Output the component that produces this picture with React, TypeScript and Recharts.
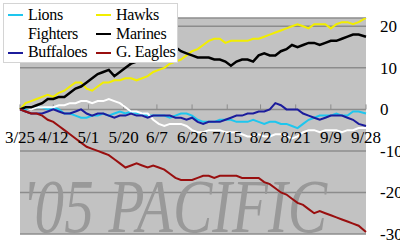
import { LineChart, Line, XAxis, YAxis, CartesianGrid, Legend, ReferenceLine, Customized } from 'recharts';

// days since 3/25, sampled every 3 days
const days = [
  0, 3, 6, 9, 12, 15, 18, 21, 24, 27, 30, 33, 36, 39, 42, 45, 48, 51, 54, 57, 60,
  63, 66, 69, 72, 75, 78, 81, 84, 87, 90, 93, 96, 99, 102, 105, 108, 111, 114, 117, 120,
  123, 126, 129, 132, 135, 138, 141, 144, 147, 150, 153, 156, 159, 162, 165, 168, 171, 174, 177, 180,
  183, 187,
];

const tickDays = [0, 18, 37, 56, 74, 93, 112, 130, 149, 168, 187];
const tickLabels = ['3/25', '4/12', '5/1', '5/20', '6/7', '6/26', '7/15', '8/2', '8/21', '9/9', '9/28'];
const yTicks = [-30, -20, -10, 0, 10, 20];

// games above .500
const lions = [
  0, 0, 0.5, 0.5, 0.5, 0, 0.5, 0, -1, -1, -1.5, -2, -2, -1.5, -1.5, -1, -1.5, -1, -0.5, -1, -0.5,
  -1, -1, -1.5, -1.5, -1.5, -1.5, -2, -1.5, -1, -1, -1.5, -2.5, -3, -3, -3, -2.5, -2.5, -2.5, -3, -3,
  -3, -2.5, -3, -3.5, -3, -3, -3.5, -3.5, -4, -4.5, -3.5, -2.5, -2, -1.5, -1.5, -1.5, -1, -1.5, -1.5, -0.5,
  -0.5, -1,
];
const hawks = [
  0, 1.5, 2, 2.5, 3, 3.5, 3, 4, 4.5, 5.5, 6.5, 6.5, 5, 4.5, 5.5, 6.5, 6.5, 7, 7, 7.5, 7.5,
  7, 7.5, 8, 9, 9.5, 10, 11, 11.5, 12, 13, 14, 14.5, 15.5, 16.5, 17, 17, 16, 16.5, 16.5, 16.5,
  16.5, 17, 17, 17.5, 18, 18.5, 19, 19.5, 20, 20.5, 20, 19.5, 20.5, 20.5, 20.5, 19.5, 20.5, 21, 21, 20.5,
  21, 22,
];
const fighters = [
  0, 0.5, 0, 0.5, 0.5, 0.5, 0.5, 1, 1, 1.5, 1.5, 2, 2, 1.5, 2, 2, 2.5, 2, 1.5, 0.5, -0.5,
  -0.5, -1, -1, -2.5, -3.5, -4, -3.5, -3.5, -3.5, -4, -5, -5.5, -5.5, -5, -5, -5, -5.5, -5.5, -5.5, -6,
  -6.5, -6.5, -6, -6.5, -6.5, -6, -6, -6.5, -7, -6.5, -5.5, -5, -5, -5.5, -5, -5, -5, -5.5, -5, -5,
  -4.5, -4.5,
];
const marines = [
  0, 0.5, 0.5, 1, 1.5, 2.5, 2.5, 3, 3, 4, 5, 5.5, 6.5, 7.5, 8.5, 9, 9.5, 8, 9, 10, 11,
  11.5, 12, 12.5, 13.5, 14.5, 15, 15.5, 15, 14, 13.5, 13, 12.5, 12.5, 12.5, 12, 12, 11.5, 10.5, 11.5, 12,
  12, 11.5, 13, 13.5, 13, 13, 14, 14.5, 15.5, 15, 15.5, 16, 16, 15.5, 16, 16.5, 16.5, 17, 17.5, 18,
  18, 17.5,
];
const buffaloes = [
  0, -0.5, -1, -1, -1, -0.5, 0, -0.5, -1, -1, -0.5, 0, -1, -1.5, -1, -1, -1.5, -2, -1.5, -1.5, -1,
  -1.5, -1.5, -2, -1.5, -1.5, -1.5, -1.5, -2, -2, -2.5, -2, -3, -3.5, -3, -3, -3, -2.5, -2, -1.5, -1.5,
  -1, -1, -0.5, -0.5, 0, 1.5, 1, 0, 0, 0, -1, -1.5, -2, -2.5, -2, -1.5, -1.5, -1.5, -2, -2.5,
  -3.5, -4,
];
const eagles = [
  0, -0.5, -1, -1, -1.5, -2.5, -3, -4, -5, -6, -7, -8, -9, -9.5, -10, -10.5, -11, -12, -13, -14, -13.5,
  -13, -13.5, -14, -13.5, -14, -14.5, -15.5, -16.5, -17, -17, -17, -16.5, -16, -16, -16.5, -16, -16, -16, -16, -16.5,
  -16.5, -16.5, -16.5, -17.5, -18, -19, -20, -20.5, -21.5, -22.5, -23, -24, -25, -24.5, -25, -25.5, -26, -26.5, -27, -27.5,
  -28, -29.5,
];

const series = [
  { key: 'lions', name: 'Lions', color: '#1ec6ee', width: 2 },
  { key: 'hawks', name: 'Hawks', color: '#f2ee00', width: 2 },
  { key: 'fighters', name: 'Fighters', color: '#ffffff', width: 2 },
  { key: 'marines', name: 'Marines', color: '#000000', width: 2.5 },
  { key: 'buffaloes', name: 'Buffaloes', color: '#1c1c9c', width: 2 },
  { key: 'eagles', name: 'G. Eagles', color: '#990f0f', width: 2 },
];

const data = days.map((day, i) => ({
  day,
  lions: lions[i],
  hawks: hawks[i],
  fighters: fighters[i],
  marines: marines[i],
  buffaloes: buffaloes[i],
  eagles: eagles[i],
}));

const font = '"Liberation Serif", "Times New Roman", serif';

const DateTick = ({ x, y, payload }: any) => {
  const idx = tickDays.indexOf(payload.value);
  return (
    <text x={x} y={y - 99} textAnchor="middle" fontFamily={font} fontSize={17} fill="#000">
      {tickLabels[idx]}
    </text>
  );
};

const Watermark = () => (
  <text
    x={22}
    y={232}
    fontFamily={font}
    fontStyle="italic"
    fontSize={76}
    fill="#999999"
    textLength={305}
    lengthAdjust="spacingAndGlyphs"
  >
    '05 PACIFIC
  </text>
);

const LegendBox = () => (
  <div
    style={{
      width: 175,
      height: 60,
      boxSizing: 'border-box',
      background: '#fff',
      border: '1px solid #d4d4d4',
      display: 'grid',
      gridTemplateColumns: '88px 87px',
      paddingTop: 2,
      fontFamily: font,
      fontSize: 16,
      lineHeight: '18.5px',
      color: '#000',
      whiteSpace: 'nowrap',
      overflow: 'visible',
    }}
  >
    {series.map(s => (
      <div key={s.key} style={{ display: 'flex', alignItems: 'center', height: 18.5 }}>
        <span style={{ flex: 'none', width: 15, height: 2, marginLeft: 4, marginRight: 5, background: s.color }} />
        <span style={{ letterSpacing: -0.3 }}>{s.name}</span>
      </div>
    ))}
  </div>
);

export default function App() {
  return (
    <div style={{ position: 'absolute', left: 0, top: 0, width: 400, height: 251, background: '#fff' }}>
      <LineChart width={400} height={251} data={data} margin={{ top: 18, right: 0, bottom: 0, left: 20 }}>
        <CartesianGrid vertical={false} stroke="#8c8c8c" strokeWidth={1.5} fill="#c2c2c2" fillOpacity={1} />
        <Customized component={Watermark} />
        <XAxis
          dataKey="day"
          type="number"
          domain={[0, 187]}
          ticks={tickDays}
          tick={<DateTick />}
          axisLine={false}
          tickLine={false}
          height={17}
          interval={0}
        />
        <YAxis
          orientation="right"
          domain={[-30, 22]}
          ticks={yTicks}
          allowDataOverflow
          axisLine={false}
          tickLine={false}
          tickMargin={8}
          width={34}
          interval={0}
          tick={{ fill: '#000', fontSize: 17, fontFamily: font }}
        />
        {tickDays.map(d => (
          <ReferenceLine key={d} segment={[{ x: d, y: 0 }, { x: d, y: 1.2 }]} stroke="#8c8c8c" strokeWidth={1} />
        ))}
        {series.map(s => (
          <Line
            key={s.key}
            dataKey={s.key}
            name={s.name}
            stroke={s.color}
            strokeWidth={s.width}
            dot={false}
            type="linear"
            isAnimationActive={false}
          />
        ))}
        <Legend
          layout="horizontal"
          verticalAlign="middle"
          align="center"
          wrapperStyle={{ left: 3, top: 3, width: 175, height: 60 }}
          content={<LegendBox />}
        />
      </LineChart>
    </div>
  );
}
